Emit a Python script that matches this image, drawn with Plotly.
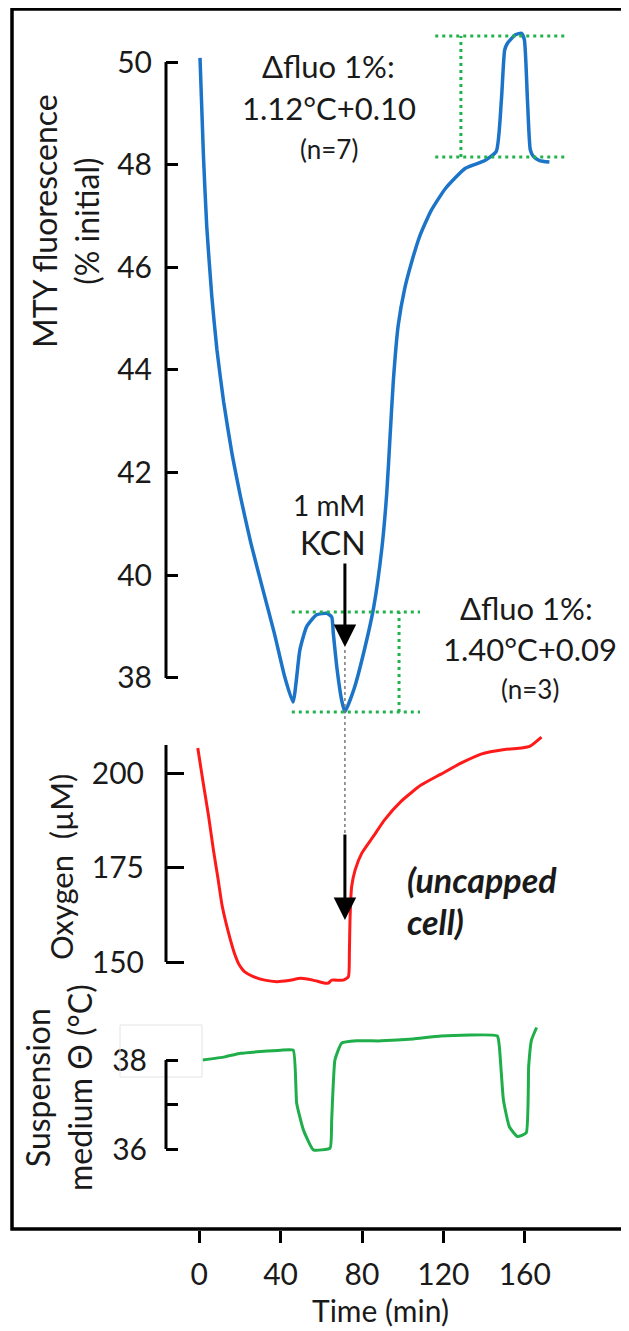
import plotly.graph_objects as go

# ---------------- data ----------------
fluo_t = [0.4, 2.1, 3.7, 6.2, 8.7, 12.0, 16.2, 20.3, 25.3, 31.1, 37.0, 41.9, 46.1,
          49.5, 52.8, 57.7, 62.6, 65.1, 65.9, 67.6, 70.0, 71.6, 76.2, 81.0, 85.8, 89.8,
          92.2, 93.8, 95.4, 97.8, 101.0, 104.3, 108.3, 113.9, 121.1, 130.8, 140.4, 146.0,
          148.5, 150.1, 151.4, 155.4, 158.4, 159.8, 161.3, 162.7, 164.2, 167.2, 172.1]
fluo_v = [50.08, 48.16, 46.80, 45.43, 44.40, 43.38, 42.35, 41.53, 40.64, 39.75, 38.86,
          38.04, 37.53, 38.55, 39.0, 39.23, 39.26, 39.19, 38.87, 38.22, 37.57, 37.34,
          37.80, 38.52, 39.39, 40.54, 41.62, 42.71, 43.79, 44.87, 45.59, 46.09, 46.60,
          47.10, 47.54, 47.93, 48.08, 48.26, 49.26, 50.23, 50.36, 50.53, 50.56, 50.43,
          49.26, 48.29, 48.16, 48.08, 48.05]

oxy_t = [-0.7, 1.9, 4.6, 7.0, 9.2, 11.2, 13.2, 15.1, 17.3, 19.4, 21.0, 22.4, 26.3, 32.2,
         38.1, 44.0, 49.9, 55.9, 61.8, 63.4, 65.1, 70.8, 73.3, 73.8, 74.1, 74.9, 76.6,
         79.9, 85.4, 91.1, 99.2, 109.0, 118.8, 128.6, 138.5, 150.0, 158.4, 162.6, 168.2]
oxy_v = [206.6, 197.6, 188.6, 179.6, 172.2, 165.1, 160.3, 156.3, 152.3, 149.5, 148.2,
         147.4, 146.2, 145.2, 144.8, 145.1, 145.7, 145.2, 144.4, 144.4, 145.2, 145.2,
         146.1, 152.4, 161.1, 169.9, 174.3, 178.8, 183.1, 187.6, 192.5, 196.8, 199.7,
         202.6, 205.0, 206.2, 206.6, 207.1, 209.5]

temp_t = [1.7, 12.5, 20.4, 30.2, 40.1, 46.2, 47.9, 51.2, 56.1, 64.3, 65.1, 66.7, 70.0,
          77.4, 89.3, 105.1, 118.8, 146.5, 147.5, 149.5, 152.4, 156.4, 160.7, 161.9,
          163.3, 165.8]
temp_v = [38.0, 38.07, 38.15, 38.19, 38.22, 38.22, 37.03, 36.43, 35.98, 36.02, 36.65,
          38.0, 38.38, 38.43, 38.43, 38.47, 38.54, 38.54, 38.30, 37.10, 36.50, 36.28,
          36.36, 37.85, 38.45, 38.73]

x_ticks = [0, 40, 80, 120, 160]
fluo_ticks = [38, 40, 42, 44, 46, 48, 50]
oxy_ticks = [150, 175, 200]
temp_ticks = [36, 37, 38]
temp_ticktext = ["36", "", "38"]

# bracket levels (Δfluo markers)
upper_bracket_t = [116, 180]
upper_bracket_levels = [50.507, 48.15]
upper_bracket_vert_t = 128.6
lower_bracket_t = [45.5, 108.5]
lower_bracket_levels = [39.285, 37.337]
lower_bracket_vert_t = 98.2

kcn_t = 71.6

# ---------------- geometry helpers (page pixel coordinates) ----------------
PAGE_W, PAGE_H = 629, 1331
OFF = 8                                  # default body margin of the html page
L, R, T, B = 166, 620, 10, 1230          # plot area in page pixels
W, H = PAGE_W - OFF, PAGE_H - OFF
px_per_min = 2.035
t0_px = 199.2


def px_x(p):
    return (p - L) / (R - L)


def px_y(p):
    return (B - p) / (B - T)


FONT = "Lato, 'Open Sans', sans-serif"
TXT = "#1a1a1a"
GREEN_DOT = "#22b24c"

fig = go.Figure()
fig.add_trace(go.Scatter(x=fluo_t, y=fluo_v, mode="lines", yaxis="y",
                         line=dict(color="#1b74c8", width=3.5, shape="spline", smoothing=0.5),
                         hoverinfo="skip", showlegend=False))
fig.add_trace(go.Scatter(x=oxy_t, y=oxy_v, mode="lines", yaxis="y2",
                         line=dict(color="#ff1a1a", width=3, shape="spline", smoothing=0.5),
                         hoverinfo="skip", showlegend=False))
fig.add_trace(go.Scatter(x=temp_t, y=temp_v, mode="lines", yaxis="y3",
                         line=dict(color="#1fae4a", width=3, shape="spline", smoothing=0.4),
                         hoverinfo="skip", showlegend=False))

xr = [(L - t0_px) / px_per_min, (R - t0_px) / px_per_min]


def ax_common():
    return dict(showgrid=False, zeroline=False, showline=False, ticks="inside",
                tickwidth=3, tickcolor="black",
                tickfont=dict(family=FONT, size=30, color=TXT), anchor="x")


y1 = ax_common()
y1.update(domain=[px_y(725), px_y(T)], range=[50 - (725 - 62) / 51.33, 50 + (62 - T) / 51.33],
          tickvals=fluo_ticks, ticklen=12, ticklabelstandoff=13)
y2 = ax_common()
y2.update(domain=[px_y(995), px_y(735)], range=[200 - (995 - 773) / 3.78, 200 + (773 - 735) / 3.78],
          tickvals=oxy_ticks, ticklen=18, ticklabelstandoff=21)
y3 = ax_common()
y3.update(domain=[0, px_y(1005)], range=[38 - (B - 1060) / 44.5, 38 + (1060 - 1005) / 44.5],
          tickvals=temp_ticks, ticktext=temp_ticktext, ticklen=12, ticklabelstandoff=18)

fig.update_layout(
    width=W, height=H,
    margin=dict(l=L - OFF, r=PAGE_W - R, t=T - OFF, b=PAGE_H - B, pad=0),
    paper_bgcolor="white", plot_bgcolor="white",
    font=dict(family=FONT, color=TXT),
    xaxis=dict(range=xr, tickvals=x_ticks, showgrid=False, zeroline=False, showline=False,
               ticks="outside", ticklen=12, tickwidth=3, tickcolor="black", anchor="y3",
               tickfont=dict(family=FONT, size=30, color=TXT), ticklabelstandoff=6),
    yaxis=y1, yaxis2=y2, yaxis3=y3,
    showlegend=False,
)

shapes = []
# outer frame
shapes.append(dict(type="rect", xref="paper", yref="paper", x0=px_x(12), x1=px_x(660),
                   y0=px_y(1229), y1=px_y(9), line=dict(color="black", width=3.5), layer="above"))
# faint box near temperature axis
shapes.append(dict(type="rect", xref="paper", yref="paper", x0=px_x(120), x1=px_x(202),
                   y0=px_y(1077), y1=px_y(1025), line=dict(color="#e4e4e4", width=1)))
# y-axis lines (partial spans)
shapes.append(dict(type="line", xref="x domain", yref="y", x0=0, x1=0, y0=38, y1=50,
                   line=dict(color="black", width=3)))
shapes.append(dict(type="line", xref="x domain", yref="y2", x0=0, x1=0, y0=150,
                   y1=200 + (773 - 745) / 3.78, line=dict(color="black", width=3)))
shapes.append(dict(type="line", xref="x domain", yref="y3", x0=0, x1=0, y0=36, y1=38,
                   line=dict(color="black", width=3)))
# green dotted brackets
dot = dict(color=GREEN_DOT, width=3, dash="3px,4px")
for lv in upper_bracket_levels:
    shapes.append(dict(type="line", xref="x", yref="y", x0=upper_bracket_t[0],
                       x1=upper_bracket_t[1], y0=lv, y1=lv, line=dot))
shapes.append(dict(type="line", xref="x", yref="y", x0=upper_bracket_vert_t,
                   x1=upper_bracket_vert_t, y0=upper_bracket_levels[1],
                   y1=upper_bracket_levels[0], line=dot))
for lv in lower_bracket_levels:
    shapes.append(dict(type="line", xref="x", yref="y", x0=lower_bracket_t[0],
                       x1=lower_bracket_t[1], y0=lv, y1=lv, line=dot))
shapes.append(dict(type="line", xref="x", yref="y", x0=lower_bracket_vert_t,
                   x1=lower_bracket_vert_t, y0=lower_bracket_levels[1],
                   y1=lower_bracket_levels[0], line=dot))
# gray dashed connector
shapes.append(dict(type="line", xref="x", yref="paper", x0=kcn_t, x1=kcn_t,
                   y0=px_y(833), y1=px_y(647), line=dict(color="#7a7a7a", width=1.5, dash="3px,3px")))
fig.update_layout(shapes=shapes)

ann = []


def text(s, cx, cy, size=31, angle=0, xanchor="center", **kw):
    ann.append(dict(text=s, x=px_x(cx), y=px_y(cy), xref="paper", yref="paper",
                    showarrow=False, xanchor=xanchor, yanchor="middle", textangle=angle,
                    font=dict(family=FONT, size=size, color=TXT), **kw))


text("Δfluo 1%:", 328, 66)
text("1.12°C+0.10", 329, 108)
text("(n=7)", 329, 149, size=26)
text("1 mM", 329, 505, size=28)
text("KCN", 333, 542, size=32)
text("Δfluo 1%:", 526, 608)
text("1.40°C+0.09", 530, 649)
text("(n=3)", 530, 689, size=26)
text("<b><i>(uncapped</i></b>", 405, 879, size=34, xanchor="left")
text("<b><i>cell)</i></b>", 405, 921, size=34, xanchor="left")
text("MTY fluorescence<br>(% initial)", 66, 221, size=32, angle=-90)
text("Oxygen  (µM)", 61, 867, size=31, angle=-90)
text("Suspension<br>medium Θ (°C)", 58, 1088, size=32, angle=-90)
text("Time (min)", 380, 1310, size=30)

# arrows
ann.append(dict(x=kcn_t, y=50 - (647 - 62) / 51.33, xref="x", yref="y", ax=0, ay=-85,
                showarrow=True, arrowhead=2, arrowsize=1.5, arrowwidth=3, arrowcolor="black", text=""))
ann.append(dict(x=kcn_t, y=200 - (920 - 773) / 3.78, xref="x", yref="y2", ax=0, ay=-87,
                showarrow=True, arrowhead=2, arrowsize=1.5, arrowwidth=3, arrowcolor="black", text=""))
fig.update_layout(annotations=ann)

fig.write_html("out.html")
